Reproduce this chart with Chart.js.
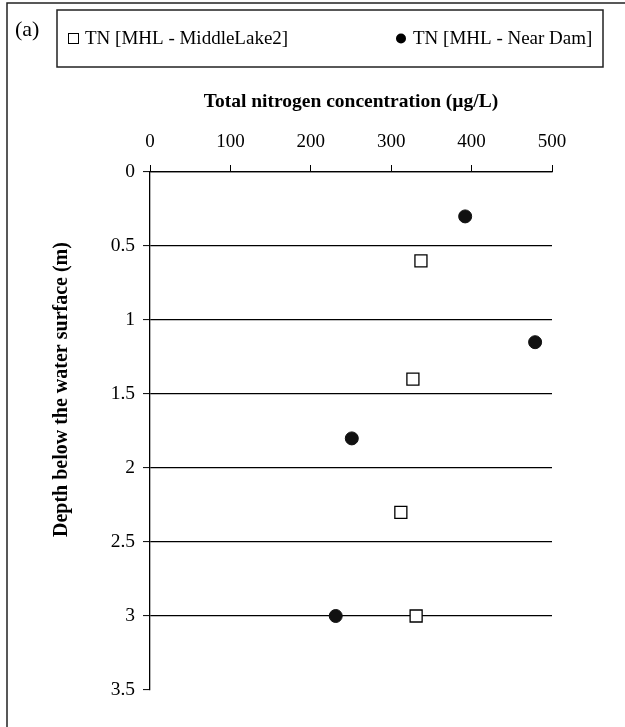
<!DOCTYPE html>
<html>
<head>
<meta charset="utf-8">
<script src="https://cdn.jsdelivr.net/npm/chart.js@4"></script>
<style>
  html, body { margin: 0; padding: 0; background: #fff; }
  #wrap { width: 625px; height: 727px; }
</style>
</head>
<body>
<div id="wrap"><canvas id="myChart" width="625" height="727"></canvas></div>
<script>
// depth (m) vs total nitrogen (ug/L)
const seriesNames = ['TN [MHL - MiddleLake2]', 'TN [MHL - Near Dam]'];
const tnMiddle = [337, 327, 312, 331];
const depthMiddle = [0.6, 1.4, 2.3, 3.0];
const tnDam = [392, 479, 251, 231];
const depthDam = [0.3, 1.15, 1.8, 3.0];
const xTicks = [0, 100, 200, 300, 400, 500];
const yTicks = [0, 0.5, 1, 1.5, 2, 2.5, 3, 3.5];
const panelLabel = '(a)';
const yTitle = 'Depth below the water surface (m)';

const serif = "'Liberation Serif', 'Times New Roman', serif";

const toPoints = (xs, ys) => xs.map((x, i) => ({x: x, y: ys[i]}));

// frame, panel letter, boxed legend and the y title (sits above centre in the original)
const decor = {
    id: 'decor',
    afterDraw(chart) {
        const ctx = chart.ctx;
        ctx.save();
        ctx.strokeStyle = '#222';
        ctx.lineWidth = 1.5;
        ctx.beginPath();
        ctx.moveTo(7, 727);
        ctx.lineTo(7, 3);
        ctx.lineTo(625, 3);
        ctx.stroke();

        ctx.fillStyle = '#000';
        ctx.font = '22px ' + serif;
        ctx.textBaseline = 'middle';
        ctx.textAlign = 'left';
        ctx.fillText(panelLabel, 15, 30);

        ctx.lineWidth = 1.5;
        ctx.strokeRect(57, 10, 546, 57);

        const ds = chart.data.datasets;
        ctx.font = '19px ' + serif;
        // square marker
        ctx.lineWidth = 1;
        ctx.strokeStyle = '#000';
        ctx.fillStyle = '#fff';
        ctx.fillRect(68.5, 33.5, 10, 10);
        ctx.strokeRect(68.5, 33.5, 10, 10);
        ctx.fillStyle = '#000';
        ctx.fillText(ds[0].label, 85, 39);
        // circle marker
        ctx.beginPath();
        ctx.arc(401, 38.5, 5, 0, Math.PI * 2);
        ctx.fill();
        ctx.fillText(ds[1].label, 413, 39);

        // y axis title
        const yScale = chart.scales.y;
        ctx.translate(62, yScale.getPixelForValue(1.47));
        ctx.rotate(-Math.PI / 2);
        ctx.textAlign = 'center';
        ctx.font = 'bold 20px ' + serif;
        ctx.fillText(yTitle, 0, 0);
        ctx.restore();
    }
};

const config = {
    type: 'scatter',
    data: {
        datasets: [{
            label: seriesNames[0],
            data: toPoints(tnMiddle, depthMiddle),
            pointStyle: 'rect',
            pointRadius: 8.5,
            pointHoverRadius: 8.5,
            backgroundColor: '#fff',
            borderColor: '#000',
            borderWidth: 1.3
        }, {
            label: seriesNames[1],
            data: toPoints(tnDam, depthDam),
            pointStyle: 'circle',
            pointRadius: 6.5,
            pointHoverRadius: 6.5,
            backgroundColor: '#111',
            borderColor: '#111',
            borderWidth: 1
        }]
    },
    options: {
        responsive: false,
        animation: false,
        events: [],
        layout: { padding: { left: 40, top: 80, right: 73, bottom: 37 } },
        plugins: {
            legend: { display: false },
            tooltip: { enabled: false }
        },
        scales: {
            x: {
                type: 'linear',
                position: 'top',
                min: 0,
                max: 500,
                afterFit: s => { s.height = 92; },
                afterBuildTicks: s => { s.ticks = xTicks.map(v => ({value: v})); },
                ticks: {
                    color: '#000',
                    padding: 12,
                    maxRotation: 0,
                    font: { family: serif, size: 19 }
                },
                grid: {
                    drawOnChartArea: false,
                    tickLength: 7,
                    tickColor: '#000',
                    tickWidth: 1
                },
                border: { color: '#000', width: 1.3 },
                title: {
                    display: true,
                    text: 'Total nitrogen concentration (\u00b5g/L)',
                    color: '#000',
                    font: { family: serif, size: 19.5, weight: 'bold' },
                    padding: { top: 10, bottom: 0 }
                }
            },
            y: {
                type: 'linear',
                reverse: true,
                min: 0,
                max: 3.5,
                afterFit: s => { s.width = 110; },
                afterBuildTicks: s => { s.ticks = yTicks.map(v => ({value: v})); },
                ticks: {
                    color: '#000',
                    padding: 8,
                    font: { family: serif, size: 19.5 },
                    callback: v => String(v)
                },
                grid: {
                    color: c => (c.tick && c.tick.value === 3.5) ? 'rgba(0,0,0,0)' : '#000',
                    lineWidth: 1.2,
                    tickLength: 7,
                    tickColor: '#000',
                    tickWidth: 1
                },
                border: { color: '#000', width: 1.3 }
            }
        }
    },
    plugins: [decor]
};

const myChart = new Chart(document.getElementById('myChart'), config);
</script>
</body>
</html>
